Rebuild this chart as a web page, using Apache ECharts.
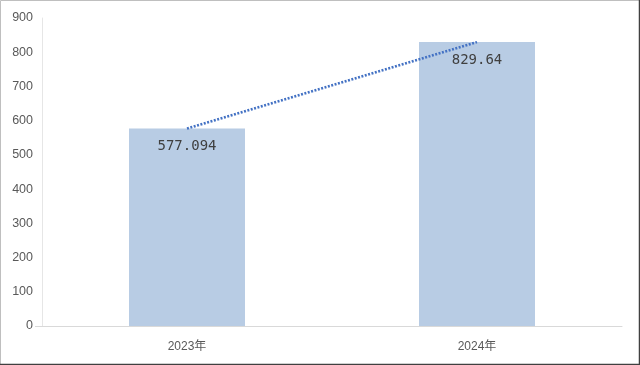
<!DOCTYPE html>
<html><head><meta charset="utf-8">
<script src="https://cdn.jsdelivr.net/npm/echarts@6/dist/echarts.min.js"></script>
<style>html,body{margin:0;padding:0;background:#fff}#c{width:640px;height:365px}</style>
</head><body><div id="c"></div>
<script>
var categories = ['2023年', '2024年'];
var values = [577.094, 829.64];
var yTicks = [0, 100, 200, 300, 400, 500, 600, 700, 800, 900];

var chart = echarts.init(document.getElementById('c'));
chart.setOption({
  animation: false,
  backgroundColor: '#fff',
  grid: { left: 42, right: 18, top: 18, bottom: 39 },
  xAxis: {
    type: 'category', data: categories,
    axisLine: { show: true, lineStyle: { color: '#d9d9d9', width: 1 } },
    axisTick: { show: false },
    axisLabel: { color: '#595959', fontSize: 12, fontFamily: 'Liberation Sans, Noto Sans CJK SC', margin: 15 }
  },
  yAxis: {
    type: 'value', min: yTicks[0], max: yTicks[yTicks.length - 1], interval: 100,
    axisLine: { show: true, lineStyle: { color: '#e6e6e6', width: 1 } },
    axisTick: { show: false },
    splitLine: { show: false },
    axisLabel: { color: '#595959', fontSize: 12.5, fontFamily: 'Liberation Sans', margin: 9 }
  },
  series: [
    {
      type: 'bar', data: values, barWidth: '40%',
      itemStyle: { color: '#b8cce4' },
      label: {
        show: true, position: 'insideTop', distance: 11,
        color: '#404040', fontSize: 14, fontFamily: 'DejaVu Sans Mono',
        formatter: function (p) { return String(p.value); }
      },
      z: 2
    },
    {
      type: 'line', data: values, symbol: 'none',
      lineStyle: { color: '#4472c4', width: 2.5, type: [2, 1.5] },
      z: 3
    }
  ],
  graphic: [
    { type: 'line', shape: { x1: 35, y1: 326.5, x2: 42, y2: 326.5 },
      style: { stroke: '#d9d9d9', lineWidth: 1 }, silent: true },
    { type: 'rect', shape: { x: 0.5, y: 0.5, width: 639, height: 364 },
      style: { fill: 'none', stroke: '#bfbfbf', lineWidth: 1 }, silent: true },
    { type: 'polyline', shape: { points: [[639.5, 0], [639.5, 364.5], [0, 364.5]] },
      style: { fill: 'none', stroke: '#404040', lineWidth: 1.5 }, silent: true }
  ]
});
</script></body></html>
